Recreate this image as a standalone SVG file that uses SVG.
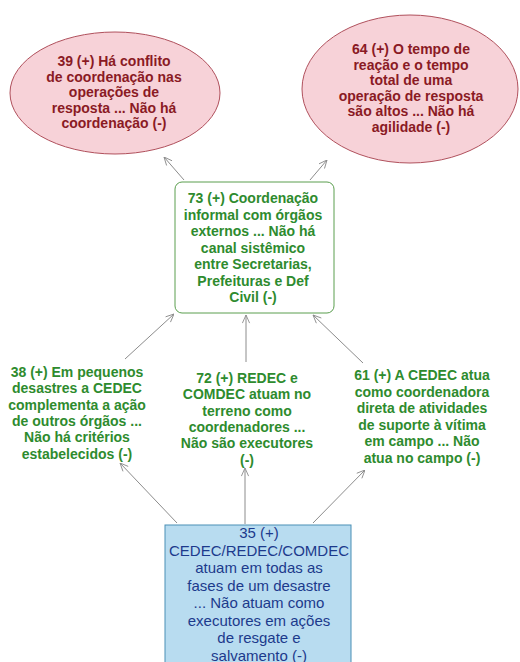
<svg xmlns="http://www.w3.org/2000/svg" width="520" height="662" viewBox="0 0 520 662">
<defs>
<style>
.red{font-family:"Liberation Sans",Arial,sans-serif;font-size:14px;font-weight:bold;fill:#8a1a24;text-anchor:middle}
.grn{font-family:"Liberation Sans",Arial,sans-serif;font-size:14px;font-weight:bold;fill:#2e8b2e;text-anchor:middle}
.blu{font-family:"Liberation Sans",Arial,sans-serif;font-size:15px;fill:#1c3a8c;text-anchor:middle}
.ell{fill:#f7d2d8;stroke:#b0505c;stroke-width:1}
.edge{stroke:#8c8c8c;stroke-width:1;fill:none;marker-end:url(#ah)}
</style>
<marker id="ah" viewBox="0 0 10 10" refX="10" refY="5" markerWidth="9" markerHeight="9" markerUnits="userSpaceOnUse" orient="auto">
<path d="M1,1 L10,5 L1,9" fill="none" stroke="#8c8c8c" stroke-width="1"/>
</marker>
</defs>
<rect width="520" height="662" fill="#ffffff"/>
<g id="connectors">
<line class="edge" x1="184" y1="180" x2="164" y2="157"/>
<line class="edge" x1="310" y1="180" x2="327" y2="160"/>
<line class="edge" x1="125" y1="359" x2="174" y2="314"/>
<line class="edge" x1="246" y1="362" x2="246" y2="315"/>
<line class="edge" x1="363" y1="363" x2="313" y2="315"/>
<line class="edge" x1="177" y1="523" x2="120" y2="463"/>
<line class="edge" x1="245" y1="524" x2="245" y2="468"/>
<line class="edge" x1="313" y1="523" x2="365" y2="470"/>
</g>
<g id="n39">
<ellipse class="ell" cx="115" cy="93" rx="105" ry="61"/>
<text class="red" x="114" y="66">39 (+) Há conflito</text>
<text class="red" x="114" y="81.5">de coordenação nas</text>
<text class="red" x="114" y="97">operações de</text>
<text class="red" x="114" y="112.5">resposta ... Não há</text>
<text class="red" x="114" y="128">coordenação (-)</text>
</g>
<g id="n64">
<ellipse class="ell" cx="410" cy="89" rx="108" ry="74"/>
<text class="red" x="411" y="54">64 (+) O tempo de</text>
<text class="red" x="411" y="69.5">reação e o tempo</text>
<text class="red" x="411" y="85">total de uma</text>
<text class="red" x="411" y="100.5">operação de resposta</text>
<text class="red" x="411" y="116">são altos ... Não há</text>
<text class="red" x="411" y="131.5">agilidade (-)</text>
</g>
<g id="n73">
<rect x="175" y="182" width="159" height="131" rx="7" fill="#ffffff" stroke="#5a9e4e" stroke-width="1"/>
<text class="grn" x="253" y="203">73 (+) Coordenação</text>
<text class="grn" x="253" y="219.5">informal com órgãos</text>
<text class="grn" x="253" y="236">externos ... Não há</text>
<text class="grn" x="253" y="252.5">canal sistêmico</text>
<text class="grn" x="253" y="269">entre Secretarias,</text>
<text class="grn" x="253" y="285.5">Prefeituras e Def</text>
<text class="grn" x="253" y="302">Civil (-)</text>
</g>
<g id="n38">
<text class="grn" x="77" y="377">38 (+) Em pequenos</text>
<text class="grn" x="77" y="393.3">desastres a CEDEC</text>
<text class="grn" x="77" y="409.6">complementa a ação</text>
<text class="grn" x="77" y="425.9">de outros órgãos ...</text>
<text class="grn" x="77" y="442.2">Não há critérios</text>
<text class="grn" x="77" y="458.5">estabelecidos (-)</text>
</g>
<g id="n72">
<text class="grn" x="247" y="383">72 (+) REDEC e</text>
<text class="grn" x="247" y="399.3">COMDEC atuam no</text>
<text class="grn" x="247" y="415.6">terreno como</text>
<text class="grn" x="247" y="431.9">coordenadores ...</text>
<text class="grn" x="247" y="448.2">Não são executores</text>
<text class="grn" x="247" y="464.5">(-)</text>
</g>
<g id="n61">
<text class="grn" x="422" y="380">61 (+) A CEDEC atua</text>
<text class="grn" x="422" y="396.6">como coordenadora</text>
<text class="grn" x="422" y="413.2">direta de atividades</text>
<text class="grn" x="422" y="429.8">de suporte à vítima</text>
<text class="grn" x="422" y="446.4">em campo ... Não</text>
<text class="grn" x="422" y="463">atua no campo (-)</text>
</g>
<g id="n35">
<rect x="165" y="525" width="186" height="150" fill="#b8dcf0" stroke="#4a8fb5" stroke-width="1"/>
<text class="blu" x="259" y="538">35 (+)</text>
<text class="blu" x="259" y="555.5">CEDEC/REDEC/COMDEC</text>
<text class="blu" x="259" y="573">atuam em todas as</text>
<text class="blu" x="259" y="590.5">fases de um desastre</text>
<text class="blu" x="259" y="608">... Não atuam como</text>
<text class="blu" x="259" y="625.5">executores em ações</text>
<text class="blu" x="259" y="643">de resgate e</text>
<text class="blu" x="259" y="660.5">salvamento (-)</text>
</g>
</svg>
